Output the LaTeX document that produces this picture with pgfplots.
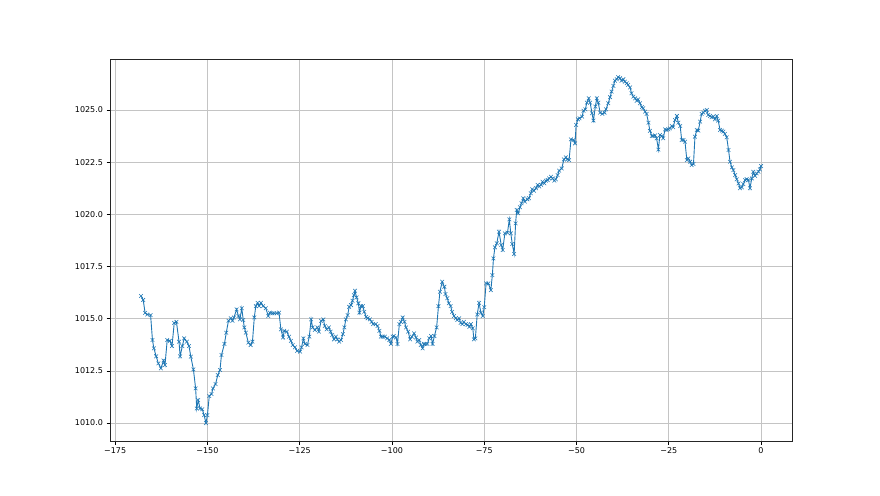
\documentclass[border=0pt]{standalone}
\usepackage{fontspec}
\setmainfont{DejaVu Sans}
\usepackage{pgfplots}
\pgfplotsset{compat=1.18}
\definecolor{mplblue}{HTML}{1F77B4}
\definecolor{gridgray}{HTML}{C4C4C4}
\begin{document}
\begin{tikzpicture}
\begin{axis}[
  scale only axis, width=682pt, height=382pt,
  xmin=-176.4, xmax=8.4, ymin=1009.14, ymax=1027.44,
  xtick={-175,-150,-125,-100,-75,-50,-25,0},
  xticklabels={−175,−150,−125,−100,−75,−50,−25,0},
  ytick={1010,1012.5,1015,1017.5,1020,1022.5,1025},
  yticklabel style={/pgf/number format/.cd, fixed, fixed zerofill, precision=1, 1000 sep={}},
  /pgf/number format/assume math mode=true,
  ticklabel style={font=\fontsize{8}{10}\selectfont},
  grid=major, major grid style={gridgray, line width=0.6pt},
  tick align=outside, major tick length=3.5pt,
  tick style={black, line width=0.6pt},
  axis line style={black!85, line width=0.6pt},
  xtick pos=bottom, ytick pos=left,
  clip=false,
]
\path (axis description cs:-0.1613,-0.1414) rectangle (axis description cs:1.129,1.1545);
\addplot[mplblue, line width=0.9pt, mark=x, mark size=2.6pt, mark options={line width=0.55pt}] coordinates {
(-168.0,1016.09) (-167.4,1015.90) (-166.9,1015.28) (-166.3,1015.20) (-165.4,1015.17)
(-164.9,1013.98) (-164.5,1013.58) (-163.9,1013.20) (-163.3,1012.86) (-162.6,1012.62)
(-161.9,1013.00) (-161.5,1012.78) (-160.9,1013.98) (-160.2,1013.94) (-159.6,1013.69)
(-159.0,1014.80) (-158.4,1014.85) (-157.7,1013.90) (-157.4,1013.20) (-156.8,1013.69)
(-156.3,1014.06) (-155.6,1013.90) (-155.0,1013.69) (-154.5,1013.18) (-153.8,1012.57)
(-153.2,1011.66) (-152.9,1010.70) (-152.5,1011.10) (-152.0,1010.70) (-151.4,1010.66)
(-150.9,1010.38) (-150.4,1010.00) (-150.0,1010.38) (-149.5,1011.30) (-148.9,1011.39)
(-148.5,1011.66) (-147.8,1011.87) (-147.2,1012.30) (-146.6,1012.54) (-146.2,1013.26)
(-145.4,1013.79) (-144.9,1014.33) (-144.3,1014.90) (-143.7,1015.02) (-143.2,1014.90)
(-142.8,1015.06) (-142.1,1015.45) (-141.6,1015.13) (-141.2,1014.97) (-140.7,1015.50)
(-140.3,1014.94) (-140.0,1014.58) (-139.6,1014.33) (-138.9,1013.85) (-138.3,1013.74)
(-137.8,1013.90) (-137.3,1015.06) (-136.9,1015.60) (-136.4,1015.76) (-136.0,1015.60)
(-135.5,1015.76) (-134.9,1015.60) (-134.2,1015.50) (-133.5,1015.13) (-133.1,1015.29)
(-132.4,1015.26) (-131.9,1015.26) (-131.2,1015.26) (-130.6,1015.29) (-130.1,1014.49)
(-129.5,1014.10) (-129.2,1014.42) (-128.5,1014.38) (-127.9,1014.14) (-127.4,1013.94)
(-126.9,1013.74) (-126.3,1013.63) (-125.7,1013.46) (-124.9,1013.42) (-124.5,1013.63)
(-124.0,1014.06) (-123.6,1013.79) (-122.9,1013.74) (-122.4,1014.14) (-121.9,1014.97)
(-121.5,1014.58) (-120.9,1014.46) (-120.2,1014.58) (-119.8,1014.38) (-119.2,1014.90)
(-118.6,1014.97) (-118.2,1014.65) (-117.7,1014.49) (-117.1,1014.58) (-116.6,1014.38)
(-116.2,1014.22) (-115.7,1014.01) (-115.2,1014.14) (-114.8,1014.01) (-114.3,1013.90)
(-113.8,1013.98) (-113.3,1014.26) (-112.9,1014.58) (-112.5,1014.97) (-112.0,1015.17)
(-111.6,1015.57) (-111.1,1015.65) (-110.7,1015.86) (-110.3,1016.13) (-110.0,1016.34)
(-109.6,1016.02) (-109.1,1015.74) (-108.8,1015.29) (-108.4,1015.60) (-107.9,1015.60)
(-107.5,1015.33) (-107.0,1015.09) (-106.6,1015.02) (-106.0,1014.97) (-105.5,1014.85)
(-105.1,1014.74) (-104.4,1014.74) (-103.9,1014.65) (-103.4,1014.42) (-103.0,1014.14)
(-102.5,1014.14) (-101.9,1014.14) (-101.3,1014.06) (-100.7,1013.98) (-100.3,1013.79)
(-99.8,1014.14) (-99.5,1014.17) (-98.9,1014.10) (-98.5,1013.79) (-98.0,1014.74)
(-97.6,1014.85) (-97.1,1015.06) (-96.6,1014.85) (-96.2,1014.58) (-95.6,1014.38)
(-95.1,1014.01) (-94.6,1014.14) (-94.0,1014.30) (-93.5,1014.10) (-93.1,1013.90)
(-92.6,1013.98) (-92.2,1013.74) (-91.7,1013.58) (-91.3,1013.79) (-90.9,1013.79)
(-90.4,1013.79) (-89.9,1014.06) (-89.4,1014.17) (-89.0,1013.79) (-88.5,1014.17)
(-87.9,1014.58) (-87.4,1015.60) (-87.0,1016.29) (-86.4,1016.77) (-85.8,1016.53)
(-85.5,1016.18) (-85.0,1015.98) (-84.6,1015.74) (-84.1,1015.60) (-83.7,1015.33)
(-83.2,1015.13) (-82.7,1015.02) (-82.3,1014.94) (-81.8,1015.02) (-81.4,1014.80)
(-80.9,1014.74) (-80.5,1014.85) (-80.0,1014.74) (-79.5,1014.70) (-79.0,1014.61)
(-78.6,1014.74) (-78.1,1014.54) (-77.8,1014.01) (-77.4,1014.06) (-76.9,1015.20)
(-76.4,1015.76) (-75.9,1015.29) (-75.4,1015.13) (-75.0,1015.55) (-74.5,1016.69)
(-73.9,1016.69) (-73.2,1016.37) (-72.8,1017.09) (-72.5,1017.89) (-72.1,1018.42)
(-71.6,1018.61) (-71.0,1019.17) (-70.4,1018.53) (-70.0,1018.29) (-69.4,1019.09)
(-68.7,1019.12) (-68.2,1019.76) (-67.8,1019.09) (-67.4,1018.58) (-66.9,1018.10)
(-66.5,1019.57) (-66.2,1020.21) (-65.8,1020.05) (-65.3,1020.34) (-64.9,1020.53)
(-64.4,1020.77) (-64.0,1020.61) (-63.3,1020.72) (-62.9,1020.77) (-62.4,1021.01)
(-62.0,1021.20) (-61.5,1021.13) (-61.0,1021.25) (-60.5,1021.41) (-60.1,1021.33)
(-59.6,1021.41) (-59.2,1021.56) (-58.7,1021.48) (-58.3,1021.61) (-57.8,1021.64)
(-57.4,1021.72) (-56.9,1021.80) (-56.5,1021.72) (-56.0,1021.61) (-55.6,1021.68)
(-55.1,1021.88) (-54.7,1022.09) (-54.0,1022.20) (-53.4,1022.63) (-52.9,1022.73)
(-52.5,1022.63) (-52.0,1022.60) (-51.5,1023.59) (-50.8,1023.56) (-50.4,1023.40)
(-50.1,1024.28) (-49.6,1024.55) (-49.2,1024.60) (-48.5,1024.68) (-48.1,1024.96)
(-47.6,1025.03) (-47.2,1025.35) (-46.7,1025.56) (-46.3,1025.35) (-45.8,1024.84)
(-45.4,1024.49) (-44.9,1025.16) (-44.5,1025.56) (-44.1,1025.35) (-43.6,1024.87)
(-43.0,1024.81) (-42.4,1024.87) (-42.0,1025.03) (-41.4,1025.32) (-40.9,1025.61)
(-40.5,1025.88) (-40.0,1026.15) (-39.6,1026.40) (-39.1,1026.47) (-38.7,1026.57)
(-38.2,1026.52) (-37.8,1026.40) (-37.3,1026.47) (-36.9,1026.35) (-36.4,1026.28)
(-36.0,1026.20) (-35.5,1026.08) (-35.1,1025.80) (-34.6,1025.64) (-34.1,1025.56)
(-33.7,1025.44) (-33.3,1025.51) (-32.8,1025.32) (-32.3,1025.13) (-31.9,1025.08)
(-31.4,1024.92) (-31.0,1024.81) (-30.5,1024.39) (-30.1,1024.00) (-29.6,1023.75)
(-29.2,1023.75) (-28.7,1023.78) (-28.3,1023.64) (-27.8,1023.10) (-27.4,1023.80)
(-26.9,1023.75) (-26.5,1023.64) (-26.0,1024.07) (-25.6,1024.04) (-25.1,1024.07)
(-24.7,1024.12) (-24.2,1024.23) (-23.8,1024.17) (-23.3,1024.52) (-22.8,1024.71)
(-22.4,1024.39) (-21.9,1024.23) (-21.5,1023.56) (-21.0,1023.56) (-20.6,1023.48)
(-20.1,1022.60) (-19.7,1022.68) (-19.2,1022.52) (-18.8,1022.36) (-18.3,1022.41)
(-17.9,1023.72) (-17.4,1024.04) (-17.0,1024.01) (-16.5,1024.44) (-16.1,1024.81)
(-15.6,1024.87) (-15.2,1024.96) (-14.7,1025.00) (-14.3,1024.76) (-13.8,1024.71)
(-13.4,1024.65) (-12.9,1024.68) (-12.5,1024.55) (-12.0,1024.71) (-11.6,1024.49)
(-11.1,1024.04) (-10.6,1024.01) (-10.2,1023.96) (-9.8,1023.85) (-9.3,1023.69)
(-8.8,1023.08) (-8.4,1022.52) (-7.9,1022.25) (-7.5,1022.12) (-7.0,1021.88)
(-6.6,1021.68) (-6.1,1021.48) (-5.7,1021.25) (-5.2,1021.29) (-4.8,1021.45)
(-4.3,1021.64) (-3.9,1021.68) (-3.4,1021.64) (-3.0,1021.25) (-2.5,1021.72)
(-2.1,1022.04) (-1.6,1021.84) (-1.2,1021.96) (-0.7,1022.04) (-0.3,1022.15)
(0.0,1022.31)
};
\end{axis}
\end{tikzpicture}
\end{document}
